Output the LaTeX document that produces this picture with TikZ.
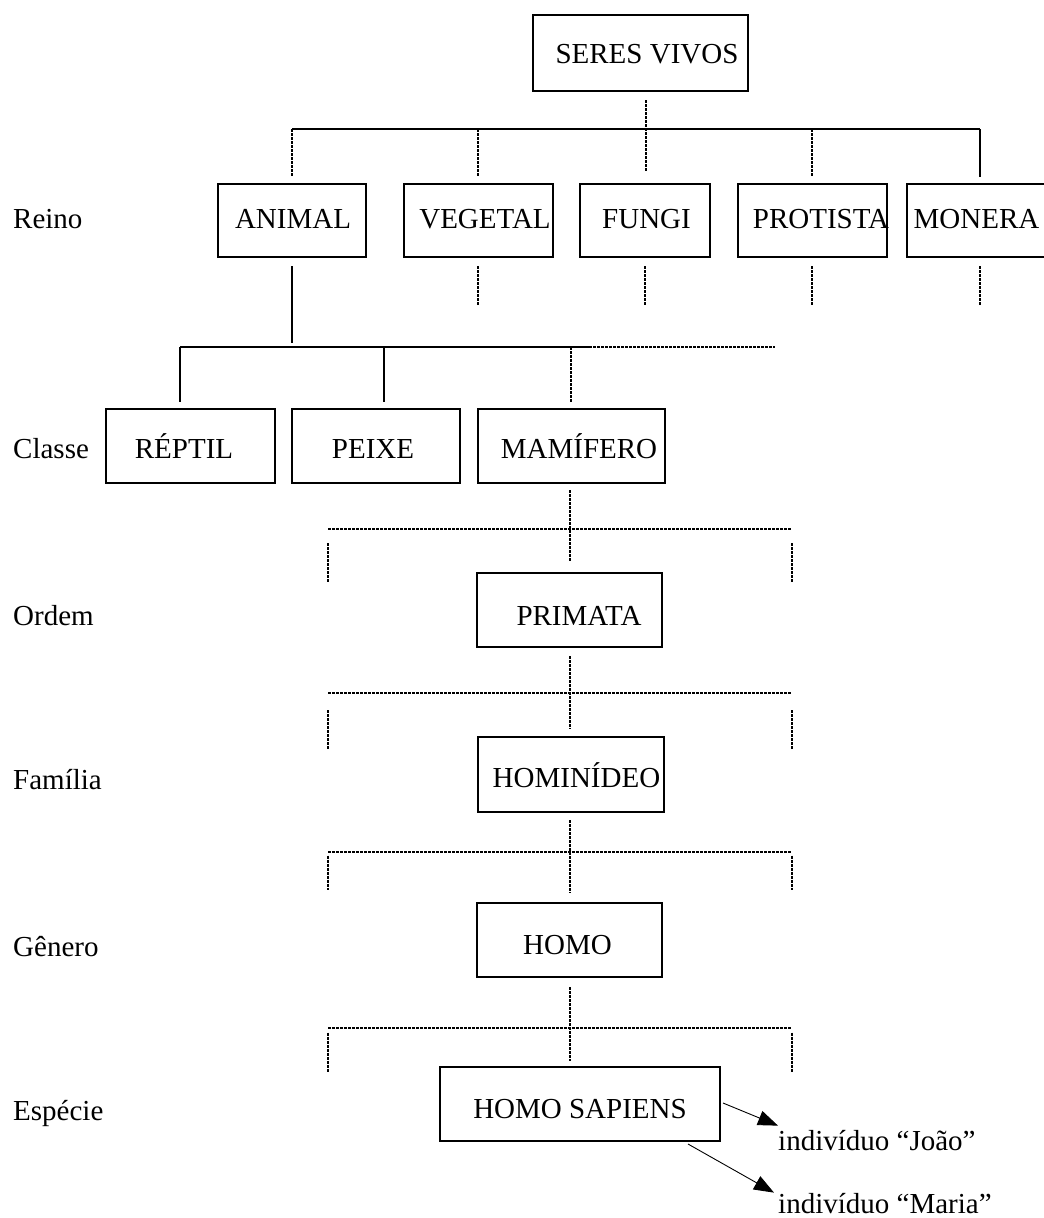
\documentclass[tikz,border=0pt]{standalone}
\usepackage{fontspec}
\setmainfont{Liberation Serif}
\usetikzlibrary{arrows.meta,calc}
\newcommand\diagfont{\fontsize{29}{34}\selectfont}
% #1 = twice the horizontal offset, #2 = raise (negative lowers), #3 = text
\newcommand\btxt[3]{\makebox[0pt]{\hspace*{#1}\raisebox{#2}{#3}}}
\begin{document}
\begin{tikzpicture}[x=1pt,y=-1pt,every node/.style={font=\diagfont}]
\tikzset{
  box/.style={draw, line width=2pt, inner sep=0pt, text height=0pt, text depth=0pt},
  sol/.style={line width=1.8pt},
  dsh/.style={line width=1.7pt, dash pattern=on 3pt off 1pt},
  arr/.style={line width=0.9pt, -{Triangle[length=20pt,width=15pt]}},
  lbl/.style={anchor=base west, inner sep=0pt},
}
\useasboundingbox (0,0) rectangle (1044,1218);

% boxes
\node[box, minimum width=215pt, minimum height=76pt] (seres) at (640.5,53) {\btxt{13pt}{-10pt}{SERES VIVOS}};
\node[box, minimum width=148pt, minimum height=73pt] (animal) at (292,220.5) {\btxt{2pt}{-7.5pt}{ANIMAL}};
\node[box, minimum width=149pt, minimum height=73pt] (vegetal) at (478,220.5) {\btxt{14pt}{-7.5pt}{VEGETAL}};
\node[box, minimum width=130pt, minimum height=73pt] (fungi) at (645,220.5) {\btxt{3pt}{-7.5pt}{FUNGI}};
\node[box, minimum width=149pt, minimum height=73pt] (protista) at (812,220.5) {\btxt{18pt}{-7.5pt}{PROTISTA}};
\node[box, minimum width=146pt, minimum height=73pt] (monera) at (980,220.5) {\btxt{-7pt}{-7.5pt}{MONERA}};

\node[box, minimum width=169pt, minimum height=74pt] (reptil) at (190.5,446) {\btxt{-13pt}{-12pt}{RÉPTIL}};
\node[box, minimum width=168pt, minimum height=74pt] (peixe) at (376,446) {\btxt{-6pt}{-12pt}{PEIXE}};
\node[box, minimum width=187pt, minimum height=74pt] (mamifero) at (571.5,446) {\btxt{15pt}{-12pt}{MAMÍFERO}};

\node[box, minimum width=185pt, minimum height=74pt] (primata) at (569.5,610) {\btxt{19pt}{-15pt}{PRIMATA}};
\node[box, minimum width=186pt, minimum height=75pt] (hominideo) at (571,774.5) {\btxt{11pt}{-12.5pt}{HOMINÍDEO}};
\node[box, minimum width=185pt, minimum height=74pt] (homo) at (569.5,940) {\btxt{-4pt}{-14pt}{HOMO}};
\node[box, minimum width=280pt, minimum height=74pt] (sapiens) at (580,1104) {\btxt{0pt}{-14pt}{HOMO SAPIENS}};

% rank labels
\node[lbl] (lreino) at (13,228) {Reino};
\node[lbl] (lclasse) at (13,458) {Classe};
\node[lbl] (lordem) at (13,625) {Ordem};
\node[lbl] (lfamilia) at (13,789) {Família};
\node[lbl] (lgenero) at (13,956) {Gênero};
\node[lbl] (lespecie) at (13,1120) {Espécie};

% individuals
\node[lbl] (joao) at (778,1150) {indivíduo “João”};
\node[lbl] (maria) at (778,1213) {indivíduo “Maria”};

% top level
\coordinate (busA) at (646,129);
\draw[dsh] ($(seres.south)+(5.5,8)$) -- ($(fungi.north)+(1,-11)$);
\draw[sol] (animal.north |- busA) -- (monera.north |- busA);
\foreach \n in {animal,vegetal,protista}
  \draw[dsh] (\n.north |- busA) -- ($(\n.north)+(0,-6)$);
\draw[sol] (monera.north |- busA) -- ($(monera.north)+(0,-6)$);

% below reino
\draw[sol] ($(animal.south)+(0,8)$) -- ($(animal.south)+(0,85)$);
\foreach \n in {vegetal,fungi,protista,monera}
  \draw[dsh] ($(\n.south)+(0,8)$) -- ($(\n.south)+(0,47)$);

% classe bus
\coordinate (rB) at (180,347);
\coordinate (pB) at (384,347);
\coordinate (mB) at (571,347);
\coordinate (sB) at (589,347);
\coordinate (eB) at (775,347);
\draw[sol] (rB) -- (sB);
\draw[dsh] (sB) -- (eB);
\draw[sol] (rB) -- ($(reptil.north -| rB)+(0,-6)$);
\draw[sol] (pB) -- ($(peixe.north -| pB)+(0,-6)$);
\draw[dsh] (mB) -- ($(mamifero.north -| mB)+(0,-6)$);

% lower levels
\coordinate (col) at (570,0);
\coordinate (L1) at (328,529.3);  \coordinate (R1) at (792,529.3);
\coordinate (L2) at (328,693.3);  \coordinate (R2) at (792,693.3);
\coordinate (L3) at (328,851.7);  \coordinate (R3) at (792,851.7);
\coordinate (L4) at (328,1027.7); \coordinate (R4) at (792,1027.7);

\draw[dsh] ($(col |- mamifero.south)+(0,6)$) -- ($(col |- primata.north)+(0,-10)$);
\draw[dsh] (L1) -- (R1);
\draw[dsh] ($(L1)+(0,14)$) -- ($(L1)+(0,53)$);
\draw[dsh] ($(R1)+(0,14)$) -- ($(R1)+(0,53)$);

\draw[dsh] ($(col |- primata.south)+(0,8)$) -- ($(col |- hominideo.north)+(0,-7)$);
\draw[dsh] (L2) -- (R2);
\draw[dsh] ($(L2)+(0,17)$) -- ($(L2)+(0,56)$);
\draw[dsh] ($(R2)+(0,17)$) -- ($(R2)+(0,56)$);

\draw[dsh] ($(col |- hominideo.south)+(0,7)$) -- ($(col |- homo.north)+(0,-9)$);
\draw[dsh] (L3) -- (R3);
\draw[dsh] ($(L3)+(0,4)$) -- ($(L3)+(0,38)$);
\draw[dsh] ($(R3)+(0,4)$) -- ($(R3)+(0,38)$);

\draw[dsh] ($(col |- homo.south)+(0,9)$) -- ($(col |- sapiens.north)+(0,-5)$);
\draw[dsh] (L4) -- (R4);
\draw[dsh] ($(L4)+(0,5)$) -- ($(L4)+(0,44)$);
\draw[dsh] ($(R4)+(0,5)$) -- ($(R4)+(0,44)$);

% arrows
\draw[arr] ($(sapiens.east)+(2,-1)$) -- ($(joao.north west)+(0,-4)$);
\draw[arr] ($(sapiens.south west)+(249,2)$) -- ($(maria.north west)+(-4,0)$);
\end{tikzpicture}
\end{document}
